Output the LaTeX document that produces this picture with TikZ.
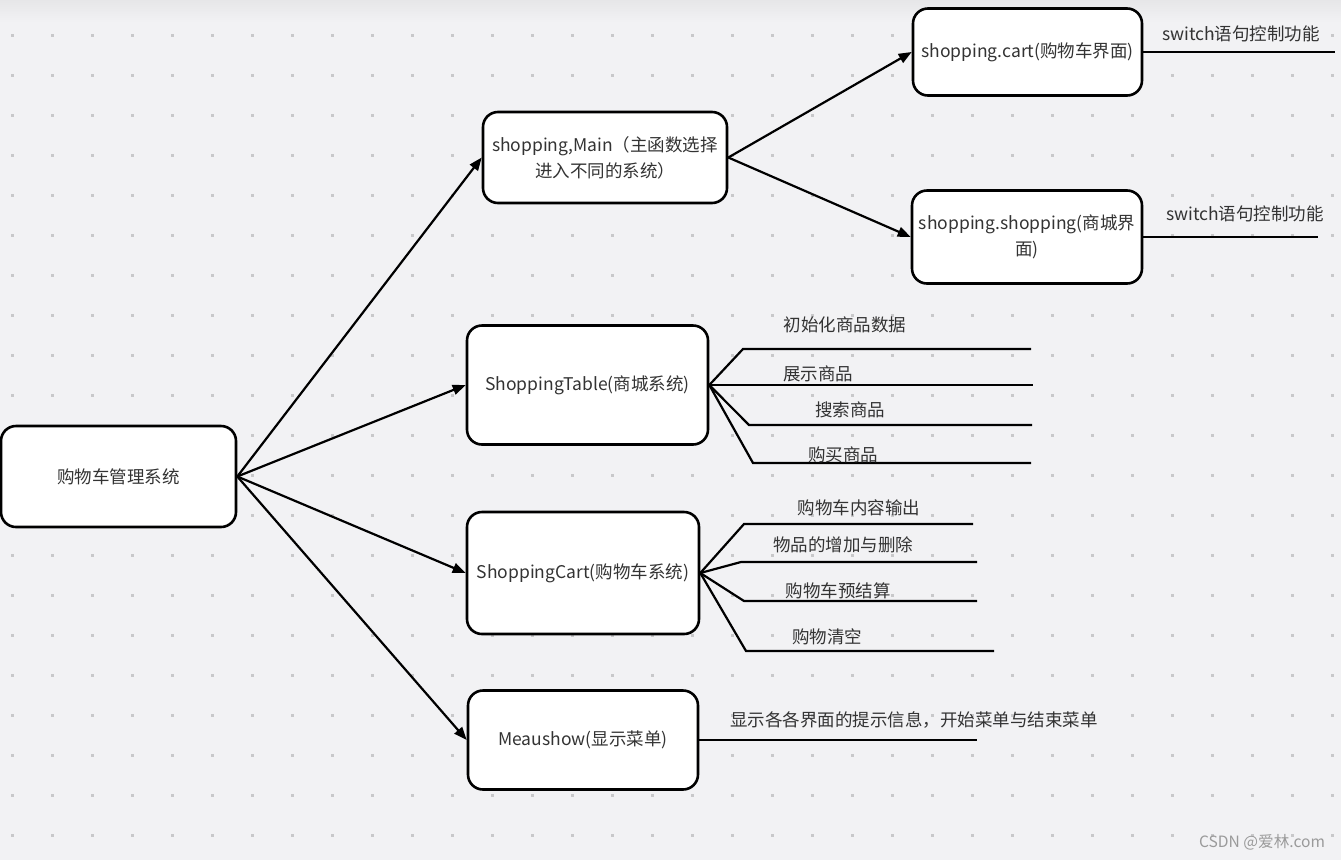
\documentclass[tikz,border=0pt]{standalone}
\usepackage{fontspec}
\setmainfont{Noto Sans CJK SC}
\usetikzlibrary{arrows.meta}
\definecolor{bg}{HTML}{F2F2F4}
\definecolor{bgtop}{HTML}{E6E6E8}
\definecolor{griddot}{HTML}{C8C8CA}
\definecolor{txt}{HTML}{333333}
\definecolor{wm}{HTML}{9A9A9A}
\tikzset{
  box/.style={draw=black, line width=2.6pt, fill=white, rounded corners=15pt, inner sep=0pt, text=txt, font=\fontsize{17.5}{26}\selectfont, align=center},
  conn/.style={line width=2.2pt, -{Triangle[length=13pt,width=10pt]}},
  leaf/.style={line width=2.2pt},
  lbl/.style={text=txt, font=\fontsize{17.5}{20}\selectfont, inner sep=0pt},
}
\begin{document}
\begin{tikzpicture}[x=1pt,y=-1pt]
\useasboundingbox (0,0) rectangle (1341,860);
\fill[bg] (0,0) rectangle (1341,860);
\shade[top color=bgtop, bottom color=bg] (0,0) rectangle (1341,22);
\foreach \i in {0,...,33} {
  \foreach \j in {0,...,20} {
    \fill[griddot] ({12+40*\i-1.5},{35+40*\j-1.5}) rectangle ++(3,3);
  }
}
% nodes
\node[box, minimum width=235pt, minimum height=101pt] (root) at (118.5,476.5) {购物车管理系统};
\node[box, minimum width=244pt, minimum height=91pt] (main) at (605,157.5) {shopping,Main（主函数选择\\进入不同的系统）};
\node[box, minimum width=229pt, minimum height=87pt] (cart) at (1027.5,52) {shopping.cart(购物车界面)};
\node[box, minimum width=230pt, minimum height=93pt] (shop) at (1027,237) {shopping.shopping(商城界\\面)};
\node[box, minimum width=241pt, minimum height=119pt] (table) at (587.5,385) {ShoppingTable(商城系统)};
\node[box, minimum width=232pt, minimum height=122pt] (scart) at (583,573) {ShoppingCart(购物车系统)};
\node[box, minimum width=230pt, minimum height=99pt] (menu) at (583,740) {Meaushow(显示菜单)};
% connectors
\draw[conn] (root.east) -- (main.west);
\draw[conn] (root.east) -- (table.west);
\draw[conn] (root.east) -- (scart.west);
\draw[conn] (root.east) -- (menu.west);
\draw[conn] (main.east) -- (cart.west);
\draw[conn] (main.east) -- (shop.west);
% leaf coordinates
\coordinate (c1e) at (1335,52);
\coordinate (s1e) at (1318,237);
\coordinate (t1a) at (743,349); \coordinate (t1b) at (1031,349);
\coordinate (t2b) at (1033,385);
\coordinate (t3a) at (749,425); \coordinate (t3b) at (1032,425);
\coordinate (t4a) at (753,463); \coordinate (t4b) at (1031,463);
\coordinate (k1a) at (744,524); \coordinate (k1b) at (973,524);
\coordinate (k2a) at (741,562); \coordinate (k2b) at (977,562);
\coordinate (k3a) at (744,601); \coordinate (k3b) at (977,601);
\coordinate (k4a) at (746,651); \coordinate (k4b) at (994,651);
\coordinate (m1b) at (977,740);
\draw[leaf] (cart.east) -- (c1e);
\draw[leaf] (shop.east) -- (s1e);
\draw[leaf] (table.east) -- (t1a) -- (t1b);
\draw[leaf] (table.east) -- (t2b);
\draw[leaf] (table.east) -- (t3a) -- (t3b);
\draw[leaf] (table.east) -- (t4a) -- (t4b);
\draw[leaf] (scart.east) -- (k1a) -- (k1b);
\draw[leaf] (scart.east) -- (k2a) -- (k2b);
\draw[leaf] (scart.east) -- (k3a) -- (k3b);
\draw[leaf] (scart.east) -- (k4a) -- (k4b);
\draw[leaf] (menu.east) -- (m1b);
% labels
\node[lbl] (lc1) at (1241,34) {switch语句控制功能};
\node[lbl] (ls1) at (1245,214) {switch语句控制功能};
\node[lbl] (lt1) at (845,325) {初始化商品数据};
\node[lbl] (lt2) at (818,374) {展示商品};
\node[lbl] (lt3) at (850,410) {搜索商品};
\node[lbl] (lt4) at (843,455) {购买商品};
\node[lbl] (lk1) at (859,508) {购物车内容输出};
\node[lbl] (lk2) at (843,545) {物品的增加与删除};
\node[lbl] (lk3) at (838,591) {购物车预结算};
\node[lbl] (lk4) at (827,637) {购物清空};
\node[lbl] (lm1) at (914,720) {显示各各界面的提示信息，开始菜单与结束菜单};
\node[text=wm, font=\fontsize{15.6}{18}\selectfont, inner sep=0pt] (wmk) at (1262,842) {CSDN @爱林.com};
\end{tikzpicture}
\end{document}
